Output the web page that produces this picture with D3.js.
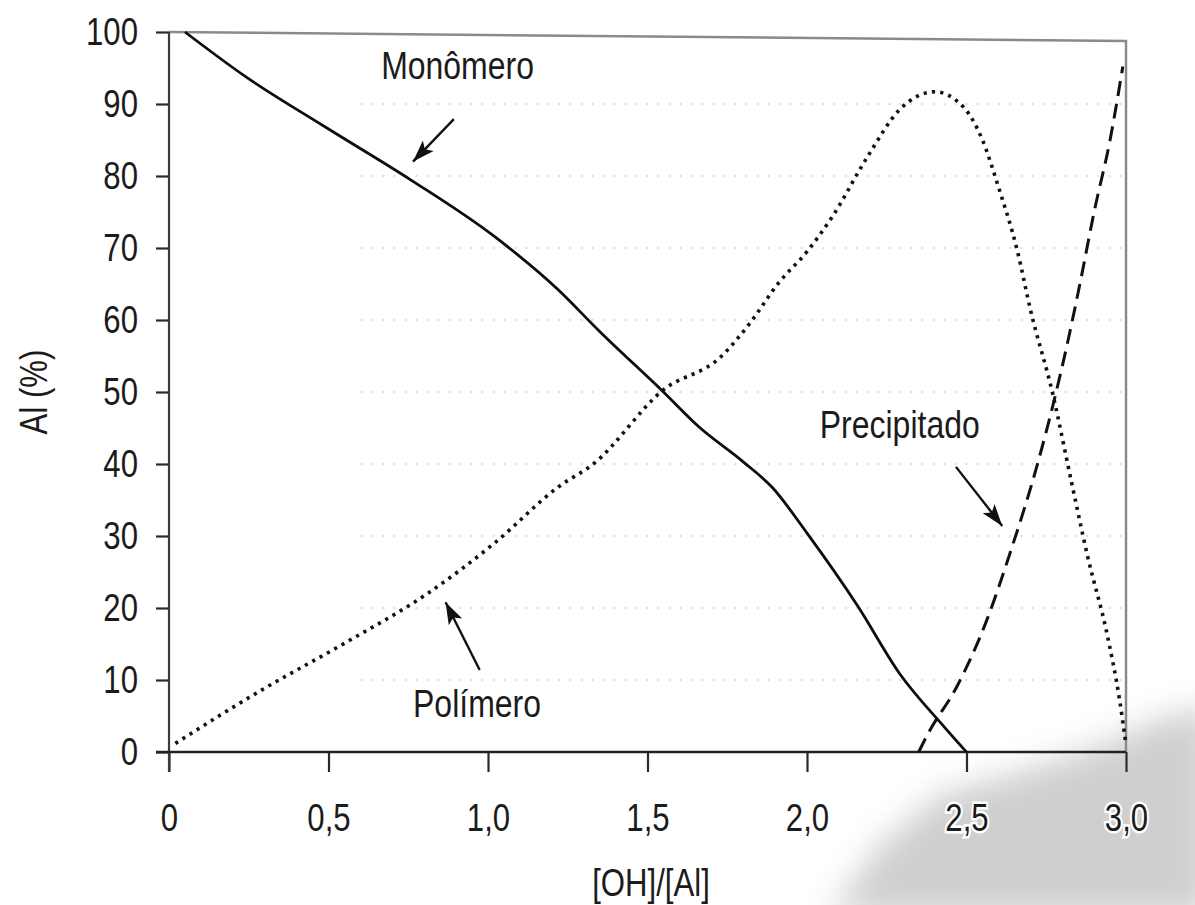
<!DOCTYPE html>
<html>
  <head>
    <script src="https://d3js.org/d3.v7.min.js"></script>
    <style>
      body { margin: 0; background: #fff; }
      text { font-family: "Liberation Sans", Arial, sans-serif; fill: #1b1b1b; }
      .tick-label { font-size: 38px; }
      .axis-title { font-size: 38px; }
      .curve-label { font-size: 39px; }
    </style>
  </head>
  <body>
    <svg width="1195" height="905"></svg>
    <script>
      // values
      const monomerX = [0.05, 0.24, 0.49, 0.76, 1.02, 1.22, 1.35, 1.55, 1.66, 1.80, 1.89, 2.00, 2.16, 2.29, 2.43, 2.50];
      const monomerY = [100, 93.8, 86.8, 79.4, 71.6, 64.2, 58.4, 50.0, 45.2, 40.3, 36.8, 30.4, 20.2, 10.9, 3.5, 0];

      const polymerX = [0.02, 0.29, 0.55, 0.81, 1.02, 1.22, 1.33, 1.55, 1.73, 1.82, 1.91, 2.00, 2.08, 2.19, 2.29, 2.40, 2.49, 2.55, 2.60, 2.66, 2.70, 2.77, 2.83, 2.88, 2.94, 2.98, 3.00];
      const polymerY = [1.2, 8.6, 15.1, 22.0, 29.0, 36.8, 40.0, 50.3, 54.9, 59.5, 65.1, 69.5, 74.4, 82.7, 89.2, 91.7, 89.6, 85.0, 78.5, 69.5, 61.5, 49.8, 37.3, 27.1, 16.5, 7.2, 1.0];

      const precipX = [2.35, 2.38, 2.47, 2.56, 2.64, 2.72, 2.78, 2.82, 2.86, 2.90, 2.95, 2.99];
      const precipY = [0, 2.6, 9.1, 17.9, 28.1, 39.6, 49.8, 57.5, 66.0, 75.0, 85.0, 95.2];

      const xTicks = [0, 0.5, 1.0, 1.5, 2.0, 2.5, 3.0];
      const xTickLabels = ["0", "0,5", "1,0", "1,5", "2,0", "2,5", "3,0"];
      const yTicks = [0, 10, 20, 30, 40, 50, 60, 70, 80, 90, 100];
      const gridValues = [10, 20, 30, 40, 50, 60, 70, 80, 90];

      // annotations: label text and arrow [from, to] in data units
      const notes = [
        { text: "Monômero", at: [0.665, 93.5], arrow: [[0.893, 87.9], [0.765, 82.0]] },
        { text: "Polímero", at: [0.765, 4.8], arrow: [[0.974, 11.4], [0.867, 20.8]] },
        { text: "Precipitado", at: [2.04, 43.6], arrow: [[2.467, 39.6], [2.612, 31.4]] }
      ];

      const narrow = 0.82; // the scan uses a condensed face
      const svg = d3.select("svg");
      const x = d3.scaleLinear().domain([0, 3]).range([169, 1126]);
      const y = d3.scaleLinear().domain([0, 100]).range([752, 32]);

      svg.append("defs").append("filter").attr("id", "blur")
        .attr("x", "-20%").attr("y", "-20%").attr("width", "140%").attr("height", "140%")
        .append("feGaussianBlur").attr("stdDeviation", 16);

      // scan smudge bottom right
      svg.append("path")
        .attr("d", "M830,915 L880,845 L940,795 L1010,775 L1090,750 L1160,720 L1210,705 L1210,915 Z")
        .attr("fill", "#cfcfcf")
        .attr("filter", "url(#blur)");

      // faint dotted grid
      svg.append("g").selectAll("line").data(gridValues).join("line")
        .attr("x1", x(0.6)).attr("x2", x(3))
        .attr("y1", d => y(d)).attr("y2", d => y(d))
        .attr("stroke", "#bbb").attr("stroke-width", 1.2)
        .attr("stroke-dasharray", "2 9");

      // frame: top and right in gray
      svg.append("path")
        .attr("d", `M${x(0)},${y(100)} L${x(3)},${y(100) + 9} L${x(3)},${y(0)}`)
        .attr("fill", "none").attr("stroke", "#8a8a8a").attr("stroke-width", 2.5);

      // axes
      const yAxis = svg.append("g").attr("transform", `translate(${x(0)},0)`)
        .call(d3.axisLeft(y).tickValues(yTicks).tickSize(13).tickFormat(d => d).tickPadding(18));
      const xAxis = svg.append("g").attr("transform", `translate(0,${y(0)})`)
        .call(d3.axisBottom(x).tickValues(xTicks).tickSize(20).tickFormat((d, i) => xTickLabels[i]).tickPadding(32));

      [yAxis, xAxis].forEach(g => {
        g.select(".domain").remove();
        g.selectAll(".tick line").attr("stroke", "#2a2a2a").attr("stroke-width", 2.2);
        g.selectAll(".tick text").attr("class", "tick-label").attr("font-size", null).attr("font-family", null)
          .attr("fill", null)
          .attr("stroke", "#fff").attr("stroke-width", 5).attr("paint-order", "stroke");
      });
      // squeeze tick labels horizontally
      yAxis.selectAll(".tick text").each(function () {
        const t = d3.select(this), tx = +t.attr("x");
        t.attr("x", 0).attr("transform", `translate(${tx},0) scale(${narrow},1)`);
      });
      xAxis.selectAll(".tick text").attr("transform", `scale(${narrow},1)`);

      svg.append("line").attr("x1", x(0)).attr("x2", x(0)).attr("y1", y(100)).attr("y2", y(0) + 20)
        .attr("stroke", "#3a3a3a").attr("stroke-width", 2.2);
      svg.append("line").attr("x1", x(0) - 13).attr("x2", x(3)).attr("y1", y(0)).attr("y2", y(0))
        .attr("stroke", "#222").attr("stroke-width", 2.6);

      // curves
      const line = d3.line().x(d => x(d[0])).y(d => y(d[1])).curve(d3.curveMonotoneX);
      const zip = (xs, ys) => xs.map((v, i) => [v, ys[i]]);

      svg.append("path").datum(zip(polymerX, polymerY))
        .attr("d", line).attr("fill", "none")
        .attr("stroke", "#111").attr("stroke-width", 3.6)
        .attr("stroke-dasharray", "3.2 5.2");

      svg.append("path").datum(zip(precipX, precipY))
        .attr("d", line).attr("fill", "none")
        .attr("stroke", "#111").attr("stroke-width", 3)
        .attr("stroke-dasharray", "15 8");

      svg.append("path").datum(zip(monomerX, monomerY))
        .attr("d", line).attr("fill", "none")
        .attr("stroke", "#0d0d0d").attr("stroke-width", 2.8);

      // labels and arrows
      svg.append("g").selectAll("text").data(notes).join("text")
        .attr("class", "curve-label")
        .attr("transform", d => `translate(${x(d.at[0])},${y(d.at[1])}) scale(${narrow},1)`)
        .text(d => d.text);

      const arrows = svg.append("g").selectAll("g").data(notes).join("g");
      arrows.append("line")
        .attr("x1", d => x(d.arrow[0][0])).attr("y1", d => y(d.arrow[0][1]))
        .attr("x2", d => x(d.arrow[1][0])).attr("y2", d => y(d.arrow[1][1]))
        .attr("stroke", "#111").attr("stroke-width", 2.4);
      arrows.append("path")
        .attr("fill", "#111")
        .attr("d", d => {
          const x0 = x(d.arrow[0][0]), y0 = y(d.arrow[0][1]);
          const x1 = x(d.arrow[1][0]), y1 = y(d.arrow[1][1]);
          const a = Math.atan2(y1 - y0, x1 - x0);
          const len = 22, half = 7.5, notch = 5;
          const bx = x1 - len * Math.cos(a), by = y1 - len * Math.sin(a);
          const nx = -Math.sin(a), ny = Math.cos(a);
          const mx = x1 - (len - notch) * Math.cos(a), my = y1 - (len - notch) * Math.sin(a);
          return `M${x1},${y1} L${bx + nx * half},${by + ny * half} L${mx},${my} L${bx - nx * half},${by - ny * half} Z`;
        });

      // axis titles
      svg.append("text").attr("class", "axis-title")
        .attr("transform", `translate(47,${y(50)}) rotate(-90) scale(${narrow},1)`)
        .attr("text-anchor", "middle")
        .text("Al (%)");
      svg.append("text").attr("class", "axis-title")
        .attr("transform", `translate(651,896) scale(${narrow},1)`)
        .attr("text-anchor", "middle")
        .text("[OH]/[Al]");
    </script>
  </body>
</html>
